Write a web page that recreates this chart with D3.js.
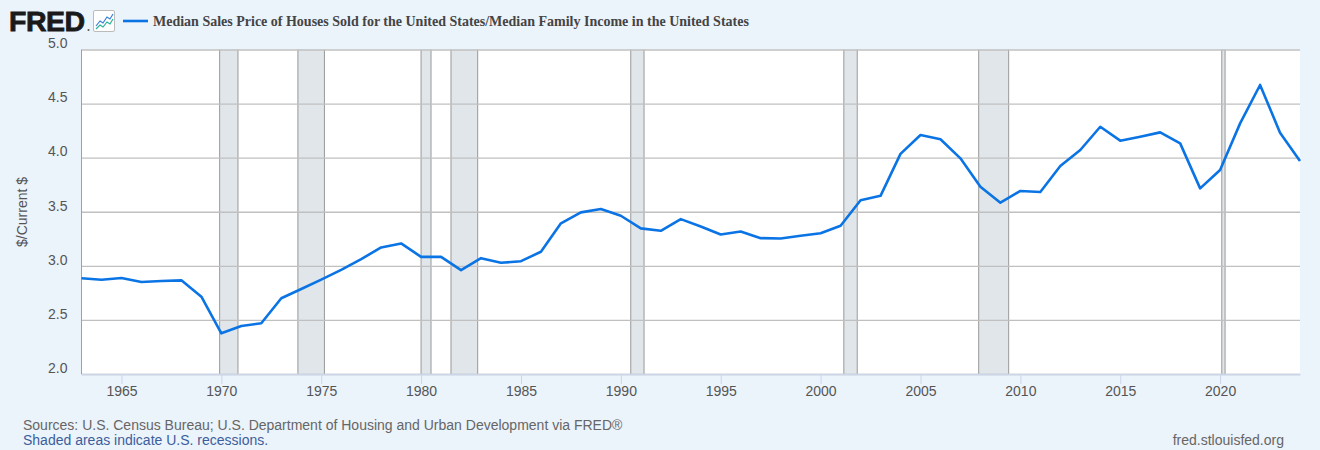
<!DOCTYPE html>
<html><head><meta charset="utf-8">
<script src="https://cdn.jsdelivr.net/npm/d3@7"></script>
<style>
html,body{margin:0;padding:0;background:#ebf3fb;}
svg{display:block;}
</style></head>
<body>
<svg id="c" width="1320" height="450"></svg>
<script>
const years = [1963,1964,1965,1966,1967,1968,1969,1970,1971,1972,1973,1974,1975,1976,1977,1978,1979,1980,1981,1982,1983,1984,1985,1986,1987,1988,1989,1990,1991,1992,1993,1994,1995,1996,1997,1998,1999,2000,2001,2002,2003,2004,2005,2006,2007,2008,2009,2010,2011,2012,2013,2014,2015,2016,2017,2018,2019,2020,2021,2022,2023,2024];
const ratio = [2.885,2.872,2.887,2.850,2.860,2.866,2.715,2.376,2.444,2.469,2.700,2.786,2.872,2.963,3.062,3.170,3.207,3.083,3.083,2.960,3.071,3.028,3.043,3.130,3.393,3.494,3.525,3.463,3.346,3.324,3.432,3.364,3.290,3.318,3.256,3.253,3.278,3.302,3.370,3.607,3.647,4.035,4.210,4.170,3.994,3.732,3.584,3.692,3.683,3.923,4.071,4.286,4.157,4.194,4.234,4.132,3.716,3.886,4.317,4.672,4.231,3.969];
const recessions = [["1969-12-01","1970-11-01"],["1973-11-01","1975-03-01"],["1980-01-01","1980-07-01"],["1981-07-01","1982-11-01"],["1990-07-01","1991-03-01"],["2001-03-01","2001-11-01"],["2007-12-01","2009-06-01"],["2020-02-01","2020-04-01"]];
const yTicks = [2.0,2.5,3.0,3.5,4.0,4.5,5.0];
const xTickYears = [1965,1970,1975,1980,1985,1990,1995,2000,2005,2010,2015,2020];
const titleText = "Median Sales Price of Houses Sold for the United States/Median Family Income in the United States";
const yLabel = "$/Current $";
const sourceText = "Sources: U.S. Census Bureau; U.S. Department of Housing and Urban Development via FRED\u00AE";
const shadedText = "Shaded areas indicate U.S. recessions.";
const siteText = "fred.stlouisfed.org";

const svg = d3.select("#c");
const L = 81.5, R = 1300, T = 49.5, B = 374;
const pd = d3.timeParse("%Y-%m-%d");
const x = d3.scaleTime().domain([new Date(1963,0,1), new Date(2024,0,1)]).range([L, R]);
const y = d3.scaleLinear().domain([2,5]).range([B, T]);
const sans = "'Liberation Sans',Arial,sans-serif";

svg.append("rect").attr("width",1320).attr("height",450).attr("fill","#ebf3fb");
svg.append("rect").attr("x",L).attr("y",T).attr("width",R-L).attr("height",B-T).attr("fill","#ffffff");

// recessions
const rg = svg.append("g");
recessions.forEach(([a,b])=>{
  const x0 = x(pd(a)), x1 = x(pd(b));
  rg.append("rect").attr("x",x0).attr("y",T).attr("width",x1-x0).attr("height",B-T).attr("fill","#e1e6ea");
  [x0,x1].forEach(xx=>rg.append("line").attr("x1",xx).attr("x2",xx).attr("y1",T).attr("y2",B).attr("stroke","#999").attr("stroke-width",1));
});

// grid
const yAxis = d3.axisLeft(y).tickValues(yTicks).tickSize(-(R-L)).tickSizeOuter(0).tickFormat(d3.format(".1f"));
const gy = svg.append("g").attr("transform",`translate(${L},0)`).call(yAxis);
gy.select(".domain").remove();
gy.selectAll(".tick line").attr("stroke","#c0c0c0").attr("stroke-width",1.3);
gy.selectAll(".tick text").attr("x",-14).attr("dy","-0.12em").attr("fill","#555")
  .style("font-family",sans).style("font-size","14px");

// left axis line
svg.append("line").attr("x1",L).attr("x2",L).attr("y1",T).attr("y2",B).attr("stroke","#a0a0a0").attr("stroke-width",1);

// x axis
const xAxis = d3.axisBottom(x).tickValues(xTickYears.map(v=>new Date(v,0,1))).tickSize(10).tickSizeOuter(0).tickFormat(d3.timeFormat("%Y"));
const gx = svg.append("g").attr("transform",`translate(0,${B})`).call(xAxis);
gx.select(".domain").attr("stroke","#ccd6eb").attr("stroke-width",1.5);
gx.selectAll(".tick line").attr("stroke","#ccd6eb");
gx.selectAll(".tick text").attr("y",10).attr("dy","0.85em").attr("fill","#555")
  .style("font-family",sans).style("font-size","14px");

// line
const line = d3.line().x((d,i)=>x(new Date(years[i],0,1))).y(d=>y(d));
svg.append("path").datum(ratio).attr("d",line).attr("fill","none").attr("stroke","#0b74e5").attr("stroke-width",2.6).attr("stroke-linejoin","round");

// y label
svg.append("text").attr("transform","translate(27,212) rotate(-90)").attr("text-anchor","middle")
  .attr("fill","#555").style("font-family",sans).style("font-size","14px").text(yLabel);

// header: FRED logo
svg.append("text").attr("x",9).attr("y",31).attr("fill","#1a1a1a")
  .style("font-family",sans).style("font-weight","900").style("font-size","28.5px").style("letter-spacing","-0.5px")
  .style("stroke","#1a1a1a").style("stroke-width","0.8px").text("FRED");
svg.append("circle").attr("cx",88.5).attr("cy",30).attr("r",1).attr("fill","#555");
const ic = svg.append("g").attr("transform","translate(93,10)");
ic.append("rect").attr("x",0.5).attr("y",0.5).attr("width",21).attr("height",21).attr("fill","#fff").attr("stroke","#bbb").attr("rx",1.5);
ic.append("path").attr("d","M3,16 L7,11 L10,13 L14,7 L17,9 L20,4").attr("fill","none").attr("stroke","#3a7fd5").attr("stroke-width",1.2);
ic.append("path").attr("d","M3,19 L7,15 L10,17 L14,12 L17,14 L20,9").attr("fill","none").attr("stroke","#2ab29a").attr("stroke-width",1.2);
svg.append("line").attr("x1",123).attr("x2",148).attr("y1",21).attr("y2",21).attr("stroke","#0b74e5").attr("stroke-width",2.6);
svg.append("text").attr("x",153).attr("y",25.5).attr("fill","#444")
  .style("font-family","'Liberation Serif','Times New Roman',serif").style("font-weight","bold").style("font-size","14px").text(titleText);

// footer
svg.append("text").attr("x",23).attr("y",430).attr("fill","#666")
  .style("font-family",sans).style("font-size","14px").text(sourceText);
svg.append("text").attr("x",23).attr("y",444.5).attr("fill","#3c5e9c")
  .style("font-family",sans).style("font-size","14px").text(shadedText);
svg.append("text").attr("x",1284).attr("y",444.5).attr("text-anchor","end").attr("fill","#666")
  .style("font-family",sans).style("font-size","14px").text(siteText);
</script>
</body></html>
